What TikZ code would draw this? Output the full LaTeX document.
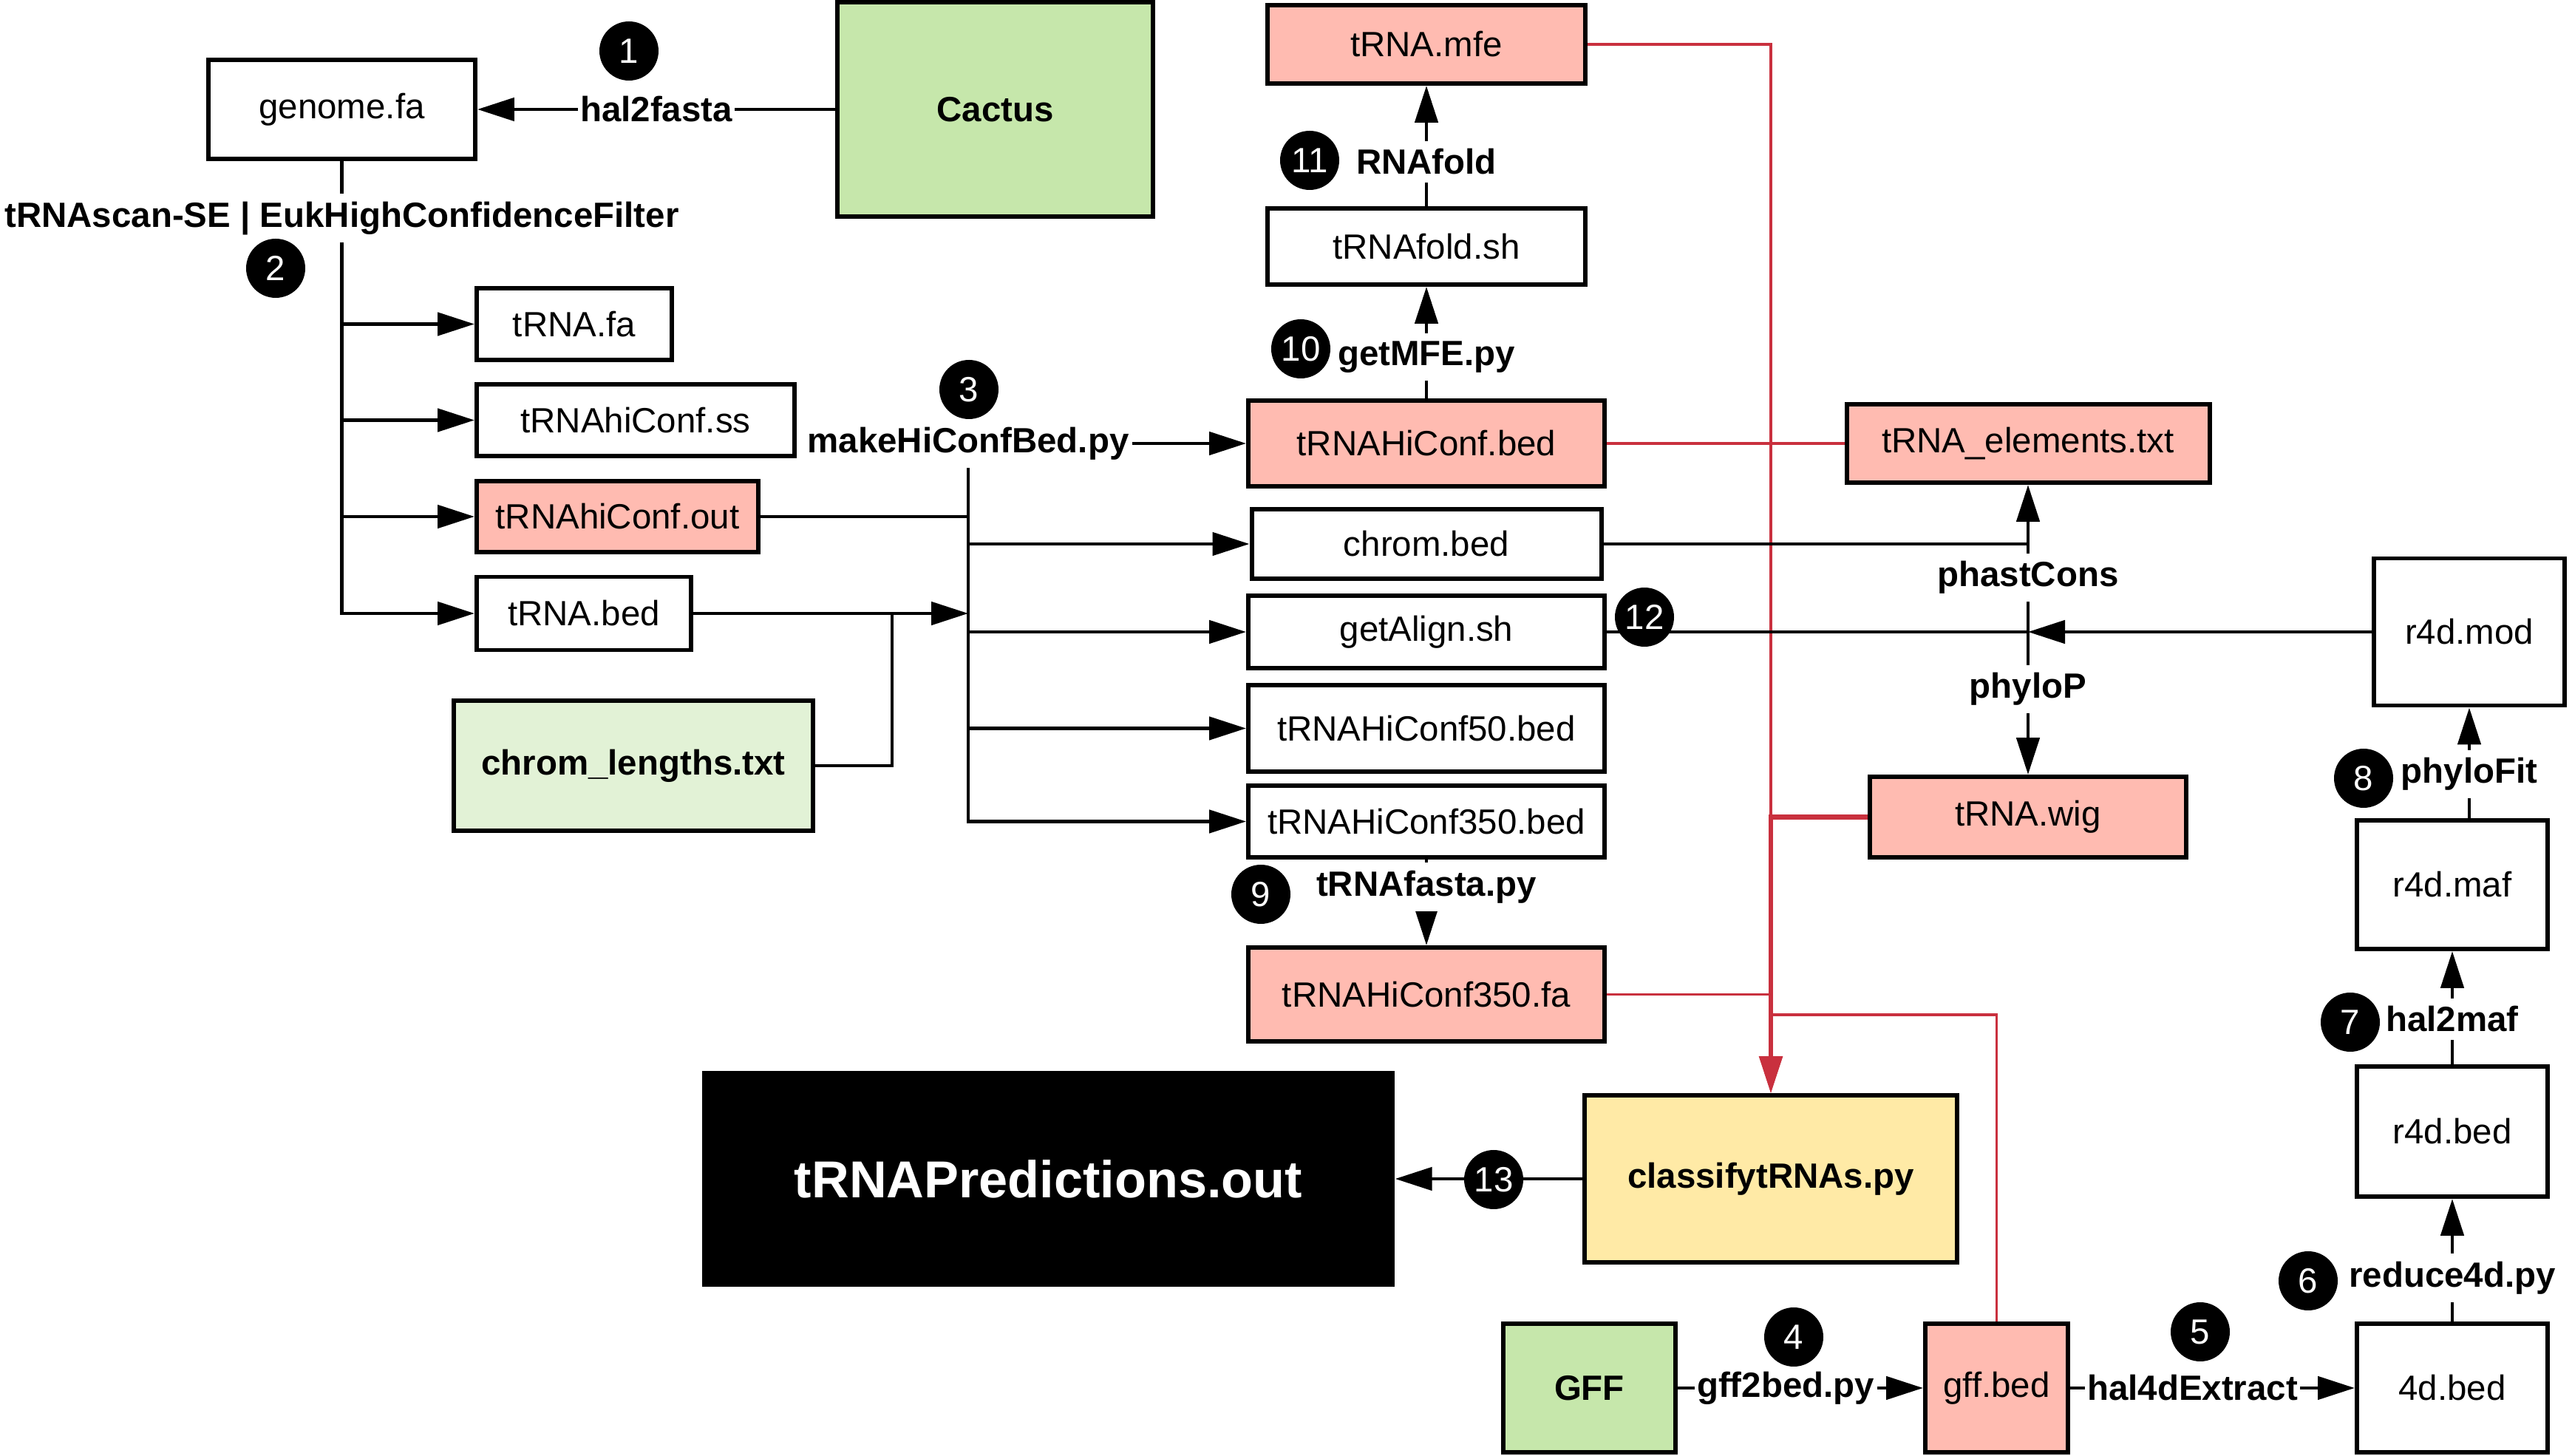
\documentclass[tikz,border=0pt]{standalone}
\usepackage{fontspec}
\setmainfont{Liberation Sans}
\usetikzlibrary{arrows.meta,calc}
\definecolor{pk}{HTML}{FFBBB1}
\definecolor{gn}{HTML}{C6E7AB}
\definecolor{lgn}{HTML}{E2F2D6}
\definecolor{yl}{HTML}{FFEAA6}
\definecolor{rd}{HTML}{C9303E}
\newcommand{\fsz}{\fontsize{13.5}{16}\selectfont}

\begin{document}
\begin{tikzpicture}[font=\fsz,
  box/.style={draw,line width=1.7pt,inner sep=0pt,align=center},
  bbox/.style={box,font=\fsz\bfseries},
  num/.style={circle,fill=black,text=white,minimum size=8mm,inner sep=0pt},
  lbl/.style={font=\fsz\bfseries,fill=white,inner xsep=1pt,inner ysep=3pt},
  ln/.style={line width=1.4pt},
  ar/.style={ln,-{Triangle[length=5mm,width=3.1mm]}},
  rl/.style={draw=rd,line width=1pt},
  rar/.style={rl,-{Triangle[length=5mm,width=3.1mm]}}]
\useasboundingbox (0,0) rectangle (34.8,-19.7);
\node[box,minimum width=3.61cm,minimum height=1.34cm] (genome) at (4.625,-1.48) {genome.fa};
\node[bbox,fill=gn,minimum width=4.27cm,minimum height=2.9cm] (cactus) at (13.465,-1.48) {Cactus};
\node[box,anchor=west,minimum width=2.64cm,minimum height=0.97cm] (trnafa) at (6.42,-4.385) {tRNA.fa};
\node[box,anchor=west,minimum width=4.30cm,minimum height=0.97cm] (hiss) at (6.42,-5.685) {tRNAhiConf.ss};
\node[box,anchor=west,fill=pk,minimum width=3.81cm,minimum height=0.96cm] (hiout) at (6.42,-6.99) {tRNAhiConf.out};
\node[box,anchor=west,minimum width=2.90cm,minimum height=0.99cm] (trnabed) at (6.42,-8.30) {tRNA.bed};
\node[bbox,fill=lgn,minimum width=4.86cm,minimum height=1.76cm] (chromlen) at (8.57,-10.36) {chrom\_lengths.txt};
\node[box,fill=pk,minimum width=4.30cm,minimum height=1.06cm] (mfe) at (19.30,-0.6) {tRNA.mfe};
\node[box,minimum width=4.30cm,minimum height=1.03cm] (fold) at (19.30,-3.335) {tRNAfold.sh};
\node[box,fill=pk,minimum width=4.82cm,minimum height=1.16cm] (hibed) at (19.30,-6.00) {tRNAHiConf.bed};
\node[box,minimum width=4.73cm,minimum height=0.94cm] (chrom) at (19.30,-7.36) {chrom.bed};
\node[box,minimum width=4.82cm,minimum height=0.98cm] (getal) at (19.30,-8.55) {getAlign.sh};
\node[box,minimum width=4.82cm,minimum height=1.17cm] (hc50) at (19.30,-9.855) {tRNAHiConf50.bed};
\node[box,minimum width=4.82cm,minimum height=0.97cm] (hc350) at (19.30,-11.115) {tRNAHiConf350.bed};
\node[box,fill=pk,minimum width=4.82cm,minimum height=1.27cm] (hc350fa) at (19.30,-13.455) {tRNAHiConf350.fa};
\node[fill=black,text=white,font=\fontsize{20}{24}\selectfont\bfseries,minimum width=9.37cm,minimum height=2.92cm] (pred) at (14.185,-15.95) {tRNAPredictions.out};
\node[bbox,fill=yl,minimum width=5.04cm,minimum height=2.26cm] (cls) at (23.96,-15.95) {classifytRNAs.py};
\node[box,fill=pk,minimum width=4.91cm,minimum height=1.06cm] (elem) at (27.44,-6.00) {tRNA\_elements.txt};
\node[box,fill=pk,minimum width=4.28cm,minimum height=1.09cm] (wig) at (27.44,-11.055) {tRNA.wig};
\node[box,minimum width=2.58cm,minimum height=1.99cm] (mod) at (33.41,-8.55) {r4d.mod};
\node[box,minimum width=2.58cm,minimum height=1.74cm] (maf) at (33.18,-11.97) {r4d.maf};
\node[box,minimum width=2.58cm,minimum height=1.76cm] (r4bed) at (33.18,-15.31) {r4d.bed};
\node[box,minimum width=2.58cm,minimum height=1.74cm] (d4) at (33.18,-18.78) {4d.bed};
\node[box,fill=pk,minimum width=1.93cm,minimum height=1.74cm] (gffbed) at (27.015,-18.78) {gff.bed};
\node[bbox,fill=gn,minimum width=2.33cm,minimum height=1.74cm] (gff) at (21.505,-18.78) {GFF};
\node[lbl] (mk) at (13.10,-6.00) {makeHiConfBed.py};
\coordinate (jlen) at (12.07,-8.30);
\coordinate (cons) at (27.44,-8.55);
\coordinate (rgff) at (23.96,-13.73);
\draw[rl,line width=1.8pt,-{Triangle[length=5mm,width=3.1mm]}] (wig.west) -| (cls.north);
\draw[rar] (mfe.east) -| (cls.north);
\draw[rl] (hibed.east) -- (elem.west);
\draw[rl] (hc350fa.east) -- (hc350fa.east -| cls.north);
\draw[rl] (gffbed.north) |- (rgff);
\draw[ar] (cactus.west) -- node[lbl]{hal2fasta} (genome.east);
\draw[ar] (genome.south) |- (trnafa.west);
\draw[ar] (genome.south) |- (hiss.west);
\draw[ar] (genome.south) |- (hiout.west);
\draw[ar] (genome.south) |- node[lbl,pos=0.063]{tRNAscan-SE | EukHighConfidenceFilter} (trnabed.west);
\draw[ln] (hiout.east) -- (hiout.east -| mk.south);
\draw[ar] (trnabed.east) -- (trnabed.east -| mk.south);
\draw[ln] (chromlen.east) -| (jlen);
\draw[ar] (mk.east) -- (hibed.west);
\draw[ar] (mk.south) |- (chrom.west);
\draw[ar] (mk.south) |- (getal.west);
\draw[ar] (mk.south) |- (hc50.west);
\draw[ar] (mk.south) |- (hc350.west);
\draw[ar] (hibed.north) -- node[lbl,pos=0.37]{getMFE.py} (fold.south);
\draw[ar] (fold.north) -- node[lbl,pos=0.37]{RNAfold} (mfe.south);
\draw[ar] (hc350.south) -- node[lbl,pos=0.32]{tRNAfasta.py} (hc350fa.north);
\draw[ar] (cls.west) -- (pred.east);
\draw[ln] (getal.east) -- (cons);
\draw[ln] (chrom.east) -- (chrom.east -| cons);
\draw[ar] (mod.west) -- (cons);
\draw[ar] (cons) -- node[lbl,pos=0.37]{phastCons} (elem.south);
\draw[ar] (cons) -- node[lbl,pos=0.40]{phyloP} (wig.north);
\draw[ar] (gff.east) -- node[lbl,pos=0.44]{gff2bed.py} (gffbed.west);
\draw[ar] (gffbed.east) -- node[lbl,pos=0.43]{hal4dExtract} (d4.west);
\draw[ar] (d4.north) -- node[lbl,pos=0.355]{reduce4d.py} (r4bed.south);
\draw[ar] (r4bed.north) -- node[lbl,pos=0.40]{hal2maf} (maf.south);
\draw[ar] (maf.north -| mod.south) -- node[lbl,pos=0.40]{phyloFit} (mod.south);
\node[num] (n1) at (8.51,-0.69) {1};
\node[num] (n2) at (3.73,-3.63) {2};
\node[num] (n3) at (13.11,-5.27) {3};
\node[num] (n4) at (24.27,-18.09) {4};
\node[num] (n5) at (29.77,-18.02) {5};
\node[num] (n6) at (31.23,-17.33) {6};
\node[num] (n7) at (31.80,-13.83) {7};
\node[num] (n8) at (31.98,-10.53) {8};
\node[num] (n9) at (17.06,-12.10) {9};
\node[num] (n10) at (17.60,-4.72) {10};
\node[num] (n11) at (17.72,-2.17) {11};
\node[num] (n12) at (22.25,-8.35) {12};
\node[num] (n13) at (20.21,-15.96) {13};
\end{tikzpicture}
\end{document}
